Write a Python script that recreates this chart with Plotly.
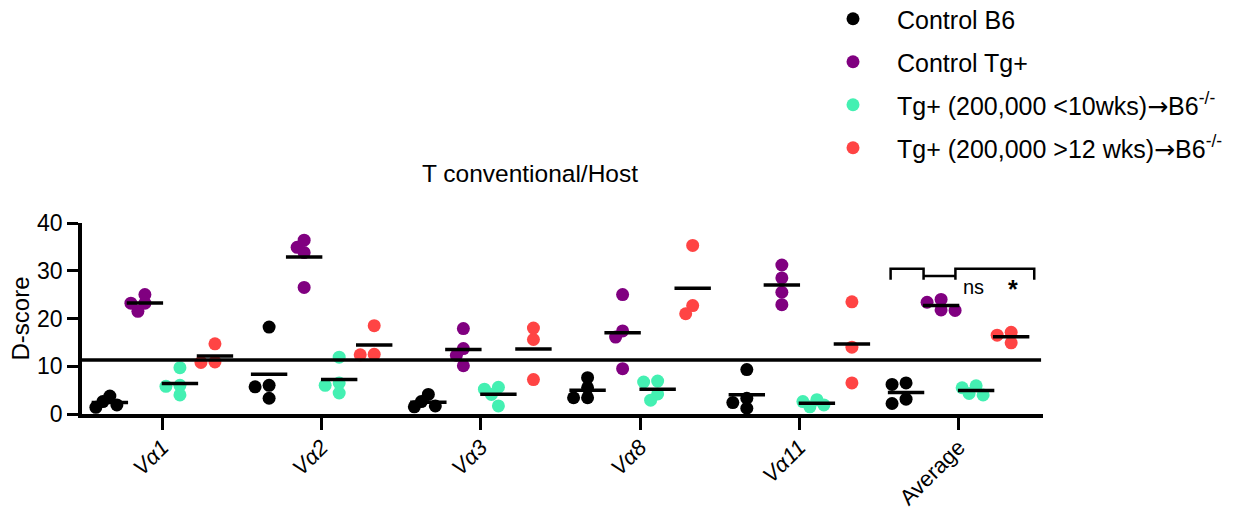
import plotly.graph_objects as go

# ---------------- data ----------------
CATEGORIES = ["Va1", "Va2", "Va3", "Va8", "Va11", "Average"]
TICK_LABELS = ["<i>Vα1</i>", "<i>Vα2</i>", "<i>Vα3</i>", "<i>Vα8</i>", "<i>Vα11</i>", "Average"]

ARROW = "<span style='font-family:DejaVu Sans'>→</span>"
SERIES_NAMES = [
    "Control B6",
    "Control Tg+",
    "Tg+ (200,000 &lt;10wks)" + ARROW + "B6<sup>-/-</sup>",
    "Tg+ (200,000 &gt;12 wks)" + ARROW + "B6<sup>-/-</sup>",
]

control_b6 = [
    [2.6, 3.75, 1.9, 1.4],
    [18.2, 6.0, 5.7, 3.3],
    [2.6, 4.1, 1.5, 1.7],
    [7.6, 5.5, 3.4, 3.4],
    [9.3, 3.3, 2.4, 1.2],
    [6.5, 6.2, 3.1, 2.2],
]
control_tg = [
    [25.0, 23.2, 23.2, 21.5],
    [34.9, 33.8, 36.4, 26.5],
    [17.9, 13.7, 12.3, 10.1],
    [25.0, 17.4, 16.1, 9.5],
    [31.2, 28.5, 25.5, 22.9],
    [23.4, 24.0, 21.7, 21.8],
]
tg_lt10 = [
    [9.7, 6.0, 5.8, 4.0],
    [11.9, 6.5, 6.0, 4.4],
    [5.2, 5.6, 4.1, 1.7],
    [6.7, 6.9, 4.2, 2.9],
    [2.6, 3.0, 1.5, 1.9],
    [5.5, 5.9, 4.0, 4.3],
]
tg_gt12 = [
    [14.7, 10.9, 10.8],
    [18.5, 12.5, 12.4],
    [18.0, 15.6, 7.2],
    [35.3, 22.7, 21.0],
    [23.5, 14.0, 6.5],
    [17.1, 16.5, 14.9],
]
SERIES = [control_b6, control_tg, tg_lt10, tg_gt12]
COLORS = ["#000000", "#800080", "#44F0B2", "#FF4444"]
THRESHOLD = 11.3
SIG_LABELS = ["ns", "*"]

# ---------------- layout helpers ----------------
FONT = "Arial, Liberation Sans, sans-serif"
W, H = 1234, 514
ML, MR, MT, MB = 82, 191, 223, 100
X_RANGE = [-0.505, 5.53]
Y_RANGE = [0, 40]
PLOT_H = H - MT - MB
PX_PER_CAT = (W - ML - MR) / (X_RANGE[1] - X_RANGE[0])
PX_PER_UNIT = PLOT_H / (Y_RANGE[1] - Y_RANGE[0])
GROUP_OFFSETS = [-0.33, -0.11, 0.11, 0.33]


def beeswarm(values, step=7.0, dmin=8.5):
    """Deterministic horizontal spreading of overlapping points (in px)."""
    order = sorted(range(len(values)), key=lambda i: -values[i])
    placed = []
    offs = [0.0] * len(values)
    for i in order:
        y = values[i] * PX_PER_UNIT
        x = 0.0
        for k in [0, -1, 1, -2, 2, -3, 3]:
            x = k * step
            if all((x - px) ** 2 + (y - py) ** 2 >= dmin ** 2 for px, py in placed):
                break
        placed.append((x, y))
        offs[i] = x
    return [o / PX_PER_CAT for o in offs]


fig = go.Figure()

for s, (name, data, color) in enumerate(zip(SERIES_NAMES, SERIES, COLORS)):
    xs, ys, mx, my = [], [], [], []
    for c, vals in enumerate(data):
        jit = beeswarm(vals)
        for v, j in zip(vals, jit):
            xs.append(c + GROUP_OFFSETS[s] + j)
            ys.append(v)
        mx.append(c + GROUP_OFFSETS[s])
        my.append(sum(vals) / len(vals))
    fig.add_trace(go.Scatter(
        x=xs, y=ys, mode="markers", name=name, legendgroup=f"g{s}",
        marker=dict(color=color, size=13, line=dict(width=0)),
        cliponaxis=False,
    ))
    fig.add_trace(go.Scatter(
        x=mx, y=my, mode="markers", showlegend=False, legendgroup=f"g{s}",
        marker=dict(symbol="line-ew", size=26, color="black",
                    line=dict(color="black", width=3.5)),
        cliponaxis=False, hoverinfo="skip",
    ))

# threshold line
fig.add_shape(type="line", xref="paper", yref="y", x0=0, x1=0.998,
              y0=THRESHOLD, y1=THRESHOLD, line=dict(color="black", width=3.5))

# significance brackets on the Average column
avg = len(CATEGORIES) - 1
bx = [avg - 0.427, avg - 0.22, avg - 0.02, avg + 0.475]
y_top, y_bot, y_mid = 30.4, 28.1, 28.9
bl = dict(color="black", width=2.5)
path = (f"M {bx[0]},{y_bot} L {bx[0]},{y_top} L {bx[1]},{y_top} L {bx[1]},{y_bot} "
        f"M {bx[1]},{y_mid} L {bx[2]},{y_mid} "
        f"M {bx[2]},{y_bot} L {bx[2]},{y_top} L {bx[3]},{y_top} L {bx[3]},{y_bot}")
fig.add_shape(type="path", xref="x", yref="y", path=path, line=bl)
fig.add_annotation(x=avg + 0.095, y=26.6, text=SIG_LABELS[0], showarrow=False,
                   font=dict(size=20, family=FONT, color="black"))
fig.add_annotation(x=avg + 0.34, y=26.2, text="<b>" + SIG_LABELS[1] + "</b>", showarrow=False,
                   font=dict(size=25, family=FONT, color="black"))

# y-axis title
fig.add_annotation(xref="paper", yref="paper", x=(20 - ML) / (W - ML - MR), y=0.5,
                   xanchor="center", yanchor="middle",
                   text="D-score", textangle=-90, showarrow=False,
                   font=dict(size=24, family=FONT, color="black"))

fig.update_layout(
    width=W, height=H,
    margin=dict(l=ML, r=MR, t=MT, b=MB, pad=0, autoexpand=False),
    paper_bgcolor="white", plot_bgcolor="white",
    font=dict(family=FONT, color="black"),
    title=dict(text="T conventional/Host", x=530 / W, xref="container", xanchor="center",
               y=1 - 173 / H, yref="container", yanchor="middle",
               font=dict(size=24.5, family=FONT, color="black")),
    showlegend=True,
    legend=dict(xref="container", yref="paper", x=809 / W, y=(PLOT_H + MT + 4) / PLOT_H,
                xanchor="left", yanchor="top", traceorder="grouped",
                tracegroupgap=7.5, itemwidth=78, borderwidth=0,
                bgcolor="rgba(0,0,0,0)",
                font=dict(size=25, family=FONT, color="black")),
    xaxis=dict(range=X_RANGE, tickmode="array", tickvals=list(range(len(CATEGORIES))),
               ticktext=TICK_LABELS, tickangle=-45, ticks="outside", ticklen=12,
               tickwidth=3, tickcolor="black", showline=True, linecolor="black",
               linewidth=3.5, showgrid=False, zeroline=False, ticklabelstandoff=-4,
               tickfont=dict(size=22, family=FONT, color="black")),
    yaxis=dict(range=Y_RANGE, tickmode="array", tickvals=[0, 10, 20, 30, 40],
               ticks="outside", ticklen=11, tickwidth=3, tickcolor="black",
               showline=True, linecolor="black", linewidth=3.5, showgrid=False,
               zeroline=False, tickfont=dict(size=23, family=FONT, color="black")),
)

fig.write_html("out.html", config={"displayModeBar": False},
               post_script="document.body.style.margin='0';")
